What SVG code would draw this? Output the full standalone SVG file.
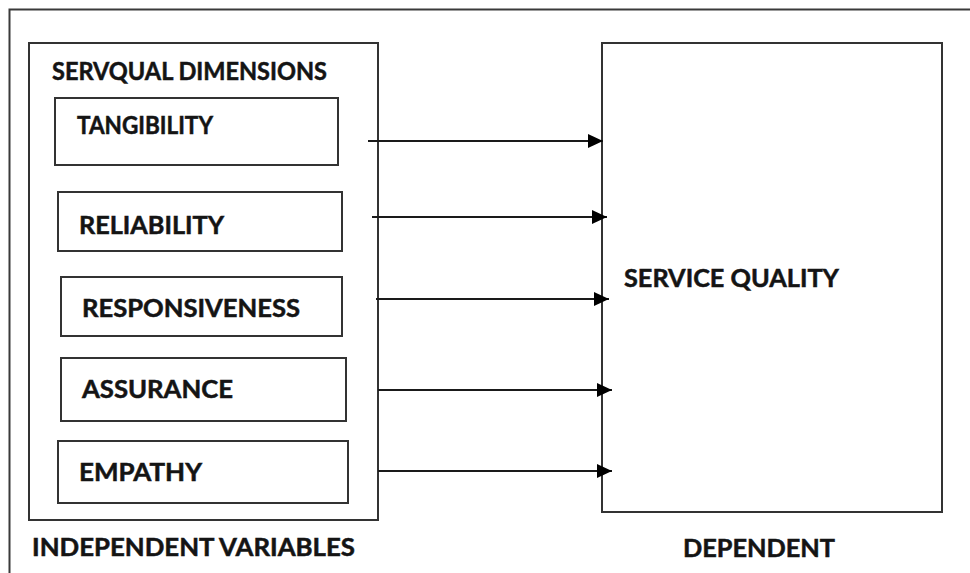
<svg xmlns="http://www.w3.org/2000/svg" width="970" height="573" viewBox="0 0 970 573">
  <style>
    .frame { fill: none; stroke: #3a3a3a; stroke-width: 2; }
    .box { fill: #fff; stroke: #333; stroke-width: 2; }
    .lbl { font-family: Lato, "Open Sans", "Liberation Sans", sans-serif; font-weight: bold; font-size: 24px; fill: #141414; stroke: #141414; stroke-width: 0.5; }
    .link { stroke: #1a1a1a; stroke-width: 2; fill: none; marker-end: url(#head); }
  </style>
  <defs>
    <marker id="head" viewBox="0 0 15 14" refX="15" refY="7" markerWidth="15" markerHeight="14" markerUnits="userSpaceOnUse" orient="auto">
      <path d="M0,0 L15,7 L0,14 Z" fill="#000"/>
    </marker>
  </defs>

  <rect width="970" height="573" fill="#fff"/>

  <!-- outer frame (runs off the right and bottom edges) -->
  <rect class="frame" x="9.5" y="9.5" width="1000" height="600"/>

  <!-- independent variables block -->
  <g id="servqual">
    <rect class="box" x="29" y="43" width="349" height="477"/>
    <text class="lbl" x="52" y="80" textLength="275" lengthAdjust="spacingAndGlyphs">SERVQUAL DIMENSIONS</text>
  </g>

  <g id="tangibility">
    <rect class="box" x="55" y="98" width="283" height="67"/>
    <text class="lbl" x="77" y="134" textLength="136" lengthAdjust="spacingAndGlyphs">TANGIBILITY</text>
  </g>

  <g id="reliability">
    <rect class="box" x="58" y="192" width="284" height="59"/>
    <text class="lbl" x="79" y="234" textLength="145" lengthAdjust="spacingAndGlyphs">RELIABILITY</text>
  </g>

  <g id="responsiveness">
    <rect class="box" x="61" y="277" width="281" height="59"/>
    <text class="lbl" x="82" y="317" textLength="218" lengthAdjust="spacingAndGlyphs">RESPONSIVENESS</text>
  </g>

  <g id="assurance">
    <rect class="box" x="61" y="358" width="285" height="63"/>
    <text class="lbl" x="82" y="398" textLength="151" lengthAdjust="spacingAndGlyphs">ASSURANCE</text>
  </g>

  <g id="empathy">
    <rect class="box" x="58" y="441" width="290" height="62"/>
    <text class="lbl" x="79" y="481" textLength="123" lengthAdjust="spacingAndGlyphs">EMPATHY</text>
  </g>

  <g id="independent-label">
    <text class="lbl" x="32" y="556" textLength="323" lengthAdjust="spacingAndGlyphs">INDEPENDENT VARIABLES</text>
  </g>

  <!-- dependent variable -->
  <g id="service-quality">
    <rect class="box" x="602" y="43" width="340" height="469"/>
    <text class="lbl" x="624" y="287" textLength="215" lengthAdjust="spacingAndGlyphs">SERVICE QUALITY</text>
  </g>

  <g id="dependent-label">
    <text class="lbl" x="683" y="557" textLength="152" lengthAdjust="spacingAndGlyphs">DEPENDENT</text>
  </g>

  <!-- arrows from each dimension into service quality -->
  <g id="connectors">
    <line class="link" x1="368" y1="141" x2="603" y2="141"/>
    <line class="link" x1="372" y1="217" x2="607" y2="217"/>
    <line class="link" x1="376" y1="299" x2="609" y2="299"/>
    <line class="link" x1="378" y1="390" x2="612" y2="390"/>
    <line class="link" x1="378" y1="471" x2="612" y2="471"/>
  </g>
</svg>
